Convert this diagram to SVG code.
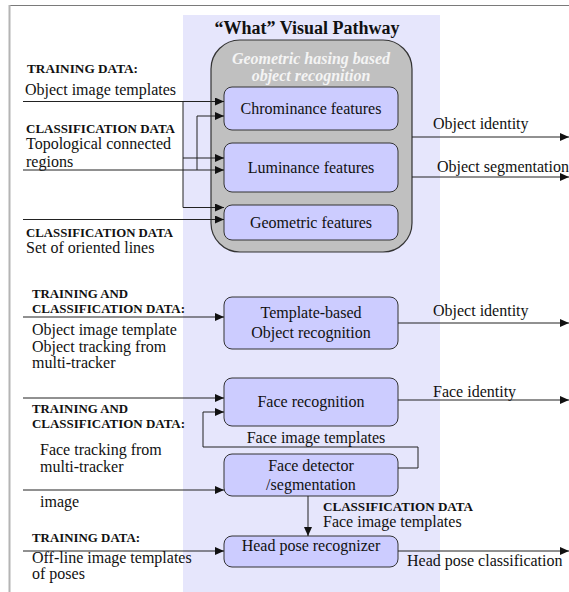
<svg xmlns="http://www.w3.org/2000/svg" width="569" height="592" viewBox="0 0 569 592">
  <defs>
    <marker id="arrow" markerWidth="9" markerHeight="8" refX="9" refY="4" orient="auto" markerUnits="userSpaceOnUse">
      <path d="M0,0 L9,4 L0,8 z" fill="#111"/>
    </marker>
    <style>
      text { font-family: "Liberation Serif", "Times New Roman", serif; fill: #111; }
      .lbl { font-size: 16px; }
      .cap { font-size: 13px; font-weight: bold; }
      .mid { text-anchor: middle; }
      .title { font-size: 18px; font-weight: bold; text-anchor: middle; }
      .hint { font-size: 16px; font-style: italic; font-weight: bold; fill: #f4f4f4; text-anchor: middle; }
      .box { fill: #ccccff; stroke: #333; stroke-width: 1; }
      .group { fill: #c0c0c0; stroke: #333; stroke-width: 1.2; }
      .wire { fill: none; stroke: #222; stroke-width: 1; }
      .arr { marker-end: url(#arrow); }
    </style>
  </defs>

  <!-- page frame -->
  <rect x="0" y="0" width="569" height="592" fill="#fff"/>
  <line x1="9" y1="5.5" x2="569" y2="5.5" stroke="#7a7a7a" stroke-width="1"/>
  <line x1="9.5" y1="5" x2="9.5" y2="592" stroke="#b4b4b4" stroke-width="2"/>

  <!-- pathway band -->
  <rect x="183" y="15" width="257" height="577" fill="#e6e6fc"/>
  <text class="title" x="307" y="34">“What” Visual Pathway</text>

  <!-- geometric hashing group -->
  <g id="geometric-hashing">
    <rect class="group" x="211" y="40" width="201" height="212" rx="29" ry="29"/>
    <text class="hint" x="311" y="64">Geometric hasing based</text>
    <text class="hint" x="311" y="81">object recognition</text>
  </g>

  <g id="chrominance">
    <rect class="box" x="224" y="87" width="174" height="43" rx="8" ry="8"/>
    <text class="lbl mid" x="311" y="113.5">Chrominance features</text>
  </g>
  <g id="luminance">
    <rect class="box" x="224" y="143" width="174" height="49" rx="8" ry="8"/>
    <text class="lbl mid" x="311" y="173">Luminance features</text>
  </g>
  <g id="geometric">
    <rect class="box" x="224" y="205" width="174" height="35" rx="8" ry="8"/>
    <text class="lbl mid" x="311" y="228">Geometric features</text>
  </g>
  <g id="template-recognition">
    <rect class="box" x="224" y="297" width="174" height="52" rx="8" ry="8"/>
    <text class="lbl mid" x="311" y="318">Template-based</text>
    <text class="lbl mid" x="311" y="338">Object recognition</text>
  </g>
  <g id="face-recognition">
    <rect class="box" x="224" y="378" width="174" height="48" rx="8" ry="8"/>
    <text class="lbl mid" x="311" y="407">Face recognition</text>
  </g>
  <g id="face-detector">
    <rect class="box" x="224" y="454" width="174" height="42" rx="8" ry="8"/>
    <text class="lbl mid" x="311" y="471">Face detector</text>
    <text class="lbl mid" x="311" y="490">/segmentation</text>
  </g>
  <g id="head-pose">
    <rect class="box" x="224" y="536" width="174" height="31" rx="8" ry="8"/>
    <text class="lbl mid" x="311" y="551">Head pose recognizer</text>
  </g>

  <!-- connectors -->
  <g id="connectors">
    <line class="wire arr" x1="23" y1="101.5" x2="224" y2="101.5"/>
    <polyline class="wire" points="183,101.5 183,207.5"/>
    <line class="wire arr" x1="183" y1="158" x2="224" y2="158"/>
    <line class="wire arr" x1="183" y1="207.5" x2="224" y2="207.5"/>
    <line class="wire arr" x1="23" y1="170" x2="224" y2="170"/>
    <polyline class="wire arr" points="197,170 197,116 224,116"/>
    <line class="wire arr" x1="23" y1="219.5" x2="224" y2="219.5"/>

    <line class="wire arr" x1="412" y1="137" x2="569" y2="137"/>
    <line class="wire arr" x1="412" y1="177" x2="569" y2="177"/>

    <line class="wire arr" x1="23" y1="317" x2="224" y2="317"/>
    <line class="wire arr" x1="398" y1="323" x2="569" y2="323"/>

    <line class="wire arr" x1="23" y1="398" x2="224" y2="398"/>
    <line class="wire arr" x1="398" y1="400" x2="569" y2="400"/>
    <polyline class="wire arr" points="398,468 418,468 418,447 203,447 203,412 224,412"/>

    <line class="wire arr" x1="23" y1="490" x2="224" y2="490"/>
    <line class="wire arr" x1="308" y1="496" x2="308" y2="536"/>

    <line class="wire arr" x1="23" y1="551" x2="224" y2="551"/>
    <line class="wire arr" x1="398" y1="551" x2="569" y2="551"/>
  </g>

  <!-- input labels -->
  <g id="input-labels">
    <text class="cap" x="27" y="73" textLength="111" lengthAdjust="spacingAndGlyphs">TRAINING DATA:</text>
    <text class="lbl" x="25" y="95">Object image templates</text>
    <text class="cap" x="26" y="133" textLength="149" lengthAdjust="spacingAndGlyphs">CLASSIFICATION DATA</text>
    <text class="lbl" x="26" y="148.5">Topological connected</text>
    <text class="lbl" x="26" y="167">regions</text>
    <text class="cap" x="26" y="237" textLength="147" lengthAdjust="spacingAndGlyphs">CLASSIFICATION DATA</text>
    <text class="lbl" x="26" y="253">Set of oriented lines</text>

    <text class="cap" x="32" y="298" textLength="96" lengthAdjust="spacingAndGlyphs">TRAINING AND</text>
    <text class="cap" x="32" y="313" textLength="153" lengthAdjust="spacingAndGlyphs">CLASSIFICATION DATA:</text>
    <text class="lbl" x="32" y="335">Object image template</text>
    <text class="lbl" x="32" y="352">Object tracking from</text>
    <text class="lbl" x="32" y="368">multi-tracker</text>

    <text class="cap" x="32" y="413" textLength="96" lengthAdjust="spacingAndGlyphs">TRAINING AND</text>
    <text class="cap" x="32" y="428" textLength="153" lengthAdjust="spacingAndGlyphs">CLASSIFICATION DATA:</text>
    <text class="lbl" x="40" y="455">Face tracking from</text>
    <text class="lbl" x="40" y="472">multi-tracker</text>
    <text class="lbl" x="40" y="507">image</text>

    <text class="cap" x="32" y="542" textLength="108" lengthAdjust="spacingAndGlyphs">TRAINING DATA:</text>
    <text class="lbl" x="32" y="563">Off-line image templates</text>
    <text class="lbl" x="32" y="579">of poses</text>
  </g>

  <!-- output and internal labels -->
  <g id="output-labels">
    <text class="lbl" x="433" y="129">Object identity</text>
    <text class="lbl" x="437" y="172">Object segmentation</text>
    <text class="lbl" x="433" y="316">Object identity</text>
    <text class="lbl" x="433" y="397">Face identity</text>
    <text class="lbl mid" x="316" y="443">Face image templates</text>
    <text class="cap" x="323" y="511" textLength="150" lengthAdjust="spacingAndGlyphs">CLASSIFICATION DATA</text>
    <text class="lbl" x="323" y="527">Face image templates</text>
    <text class="lbl" x="407" y="566">Head pose classification</text>
  </g>
</svg>
